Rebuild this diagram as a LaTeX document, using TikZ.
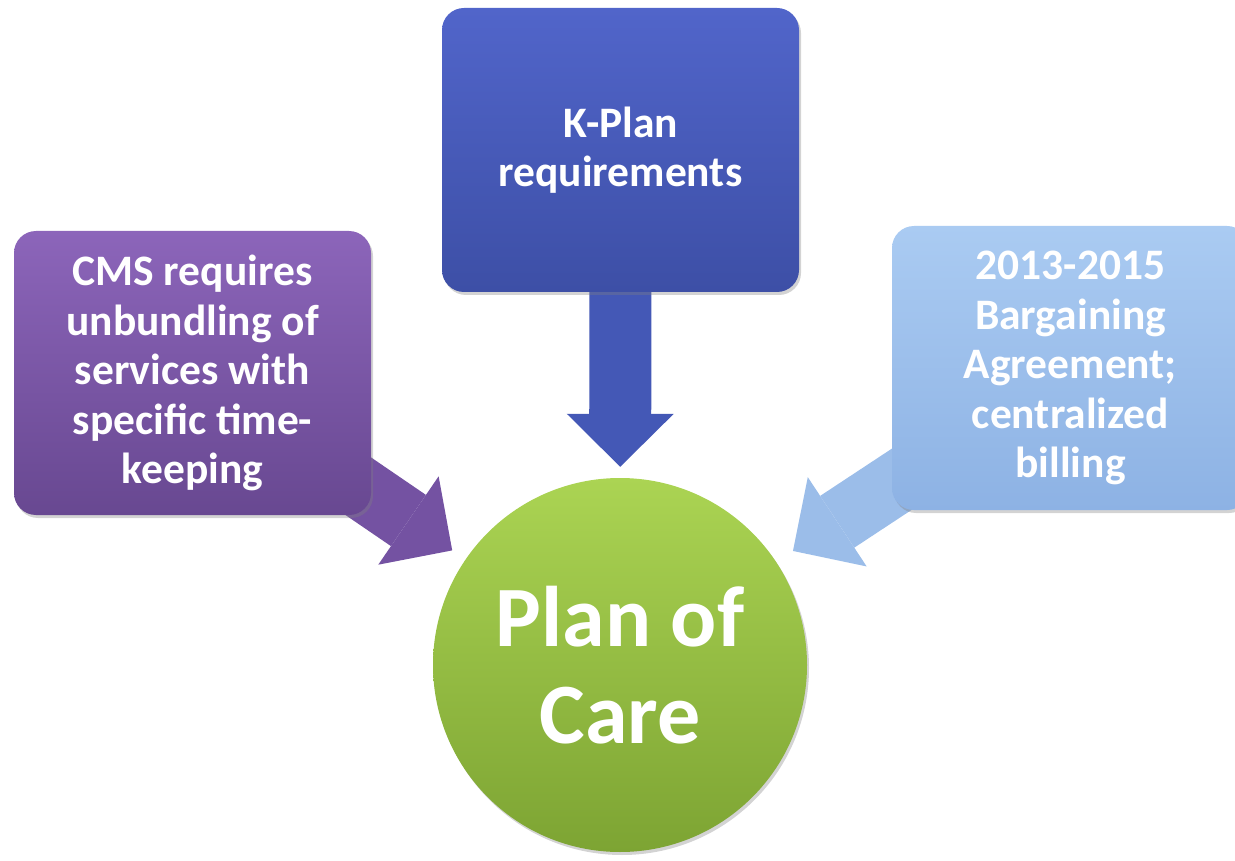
\documentclass[tikz,border=0pt]{standalone}
\usepackage{fontspec}
\setmainfont{Carlito}
\usetikzlibrary{arrows.meta,shadows}
\pgfdeclarelayer{background}
\pgfsetlayers{background,main}
\definecolor{kplanTop}{HTML}{5165CA}
\definecolor{kplanBot}{HTML}{3D4FA6}
\definecolor{kplanArrow}{HTML}{4458B6}
\definecolor{cmsTop}{HTML}{8C65BA}
\definecolor{cmsBot}{HTML}{684891}
\definecolor{cmsArrow}{HTML}{7452A2}
\definecolor{bargTop}{HTML}{AACBF2}
\definecolor{bargBot}{HTML}{8DB2E4}
\definecolor{bargArrow}{HTML}{9BBDE9}
\definecolor{careTop}{HTML}{ABD453}
\definecolor{careBot}{HTML}{7DA433}

\begin{document}
\begin{tikzpicture}[x=1pt,y=-1pt,
		box/.style={rounded corners=22pt, minimum width=357pt, minimum height=284pt,
			inner sep=0pt, align=center, text=white,
			font=\fontsize{43.5}{49.5}\selectfont\bfseries,
			drop shadow={opacity=0.35, shadow xshift=2pt, shadow yshift=-3pt}},
		fat/.style={line width=62pt,
			-{Triangle[length=53pt, width=107pt, line width=0pt]}}]
	\useasboundingbox (0,0) rectangle (1235,861);
	% the three boxes
	\node[box, top color=kplanTop, bottom color=kplanBot] (kplan) at (620.5,150)
		{K-Plan\\requirements};
	\node[box, top color=cmsTop, bottom color=cmsBot] (cms) at (192.5,373)
		{CMS requires\\unbundling of\\services with\\specific time-\\keeping};
	\node[box, top color=bargTop, bottom color=bargBot] (barg) at (1070.5,368)
		{2013-2015\\Bargaining\\Agreement;\\centralized\\billing};
	% the circle
	\node[circle, minimum size=374pt, inner sep=0pt, align=center, text=white,
		top color=careTop, bottom color=careBot,
		font=\fontsize{86}{97}\selectfont\bfseries,
		drop shadow={opacity=0.35, shadow xshift=2pt, shadow yshift=-3pt}]
		(care) at (620,665) {Plan of\\Care};
	% block arrows, behind the boxes
	\begin{pgfonlayer}{background}
		\draw[fat, kplanArrow, shorten >=11pt] (kplan.center) -- (care);
		\draw[fat, cmsArrow, shorten >=16pt] (cms.center) -- (care);
		\draw[fat, bargArrow, shorten >=20pt] (barg.center) -- (care);
	\end{pgfonlayer}
\end{tikzpicture}
\end{document}
